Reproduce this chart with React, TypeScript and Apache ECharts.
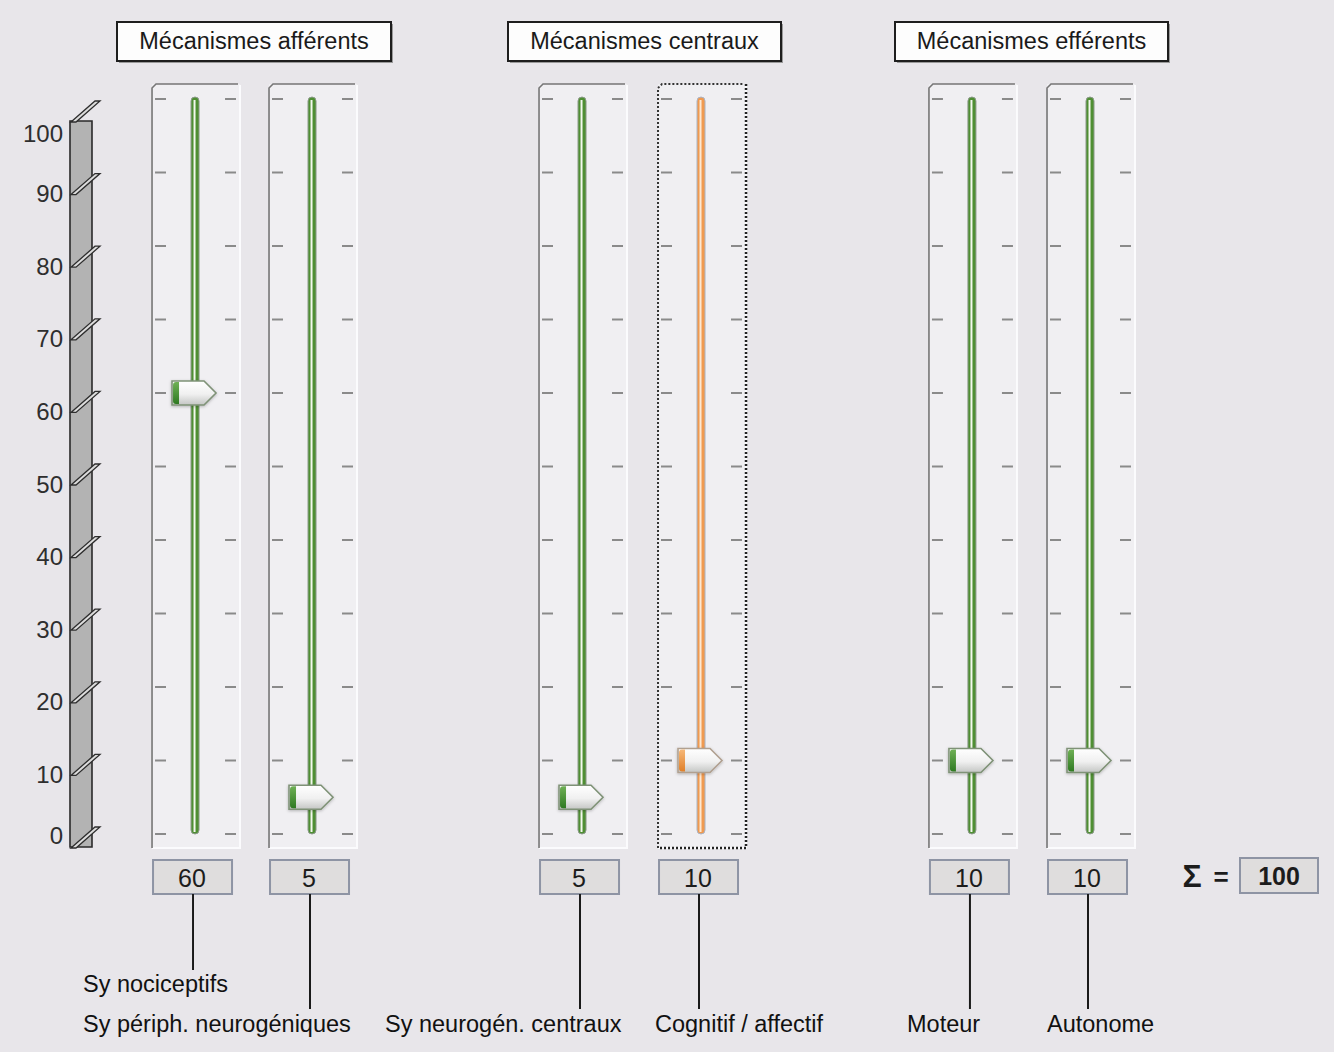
import React, { useEffect, useRef } from "react";
import * as echarts from "echarts";

// ---------- data ----------
const CATEGORIES = [
  "Sy nociceptifs",
  "Sy périph. neurogéniques",
  "Sy neurogén. centraux",
  "Cognitif / affectif",
  "Moteur",
  "Autonome",
];
const VALUES = [60, 5, 5, 10, 10, 10];
const GROUPS = ["Mécanismes afférents", "Mécanismes centraux", "Mécanismes efférents"];
const AXIS_TICKS = [0, 10, 20, 30, 40, 50, 60, 70, 80, 90, 100];
const ACTIVE_INDEX = 3;

// ---------- layout ----------
const SLOT_X = [14.62, 23.39, 43.63, 52.55, 72.86, 81.71]; // horizontal layout axis 0..100
const LABEL_LEFT = [83, 83, 385, 655, 907, 1047];
const LABEL_ROW = [0, 1, 1, 1, 1, 1];
const GROUP_BOXES = [
  { x: 117, w: 274 },
  { x: 508, w: 273 },
  { x: 895, w: 273 },
];

const FONT = "Liberation Sans, Arial, sans-serif";
const BG = "#e8e6ea";
const FRAME_BG = "#f0eff2";
const GREEN = "#4f8f33";
const ORANGE = "#f09a50";

export default function App() {
  const ref = useRef<HTMLDivElement>(null);

  useEffect(() => {
    if (!ref.current) return;
    const chart = echarts.init(ref.current, undefined, { renderer: "svg" });
    const total = VALUES.reduce((a, b) => a + b, 0);

    const txt = (x: number, y: number, text: string, size: number, align = "center", weight = "normal", color = "#1a1a1a") => ({
      type: "text",
      x,
      y,
      style: {
        text,
        fill: color,
        font: `${weight} ${size}px ${FONT}`,
        align,
        textAlign: align,
        verticalAlign: "middle",
        textVerticalAlign: "middle",
      },
    });

    const renderSlider = (params: any, api: any) => {
      const x = api.value(0);
      const v = api.value(1);
      const i = api.value(2);
      const active = i === ACTIVE_INDEX;
      const [cx, py] = api.coord([x, v]);
      const top = api.coord([x, 100])[1];
      const bot = api.coord([x, 0])[1];
      const fl = cx - 43;
      const fr = cx + 45;
      const ft = top - 15;
      const fb = bot + 14;
      const children: any[] = [];
      children.push({ type: "rect", shape: { x: fl, y: ft, width: fr - fl, height: fb - ft }, style: { fill: FRAME_BG } });
      children.push({
        type: "polyline",
        shape: { points: [[fr, ft + 1], [fr, fb], [fl, fb]] },
        style: { stroke: "#fbfbfd", lineWidth: 2, fill: "none" },
      });
      children.push({
        type: "polyline",
        shape: { points: [[fl, fb], [fl, ft + 4], [fl + 4, ft], [fr - 2, ft]] },
        style: { stroke: active ? "#333" : "#767676", lineWidth: active ? 2 : 1.6, fill: "none", lineDash: active ? [2, 2] : null },
      });
      if (active) {
        children.push({
          type: "polyline",
          shape: { points: [[fr, ft], [fr, fb], [fl, fb]] },
          style: { stroke: "#222", lineWidth: 2.5, fill: "none", lineDash: [2, 2] },
        });
      }
      AXIS_TICKS.forEach((t) => {
        const y = api.coord([x, t])[1];
        children.push({ type: "line", shape: { x1: cx - 40, y1: y, x2: cx - 29, y2: y }, style: { stroke: "#8a8a8a", lineWidth: 2 } });
        children.push({ type: "line", shape: { x1: cx + 30, y1: y, x2: cx + 41, y2: y }, style: { stroke: "#8a8a8a", lineWidth: 2 } });
      });
      const tc = active ? ORANGE : GREEN;
      children.push({
        type: "rect",
        shape: { x: cx - 4, y: top - 2, width: 8, height: bot - top + 2, r: 4 },
        style: { fill: tc, stroke: active ? "#aab4c6" : "#8c9a8a", lineWidth: 1 },
      });
      children.push({
        type: "line",
        shape: { x1: cx - 0.5, y1: top + 1, x2: cx - 0.5, y2: bot - 2 },
        style: { stroke: active ? "#fde8d2" : "#f3f8ee", lineWidth: 2 },
      });
      // pointer
      children.push({
        type: "polygon",
        shape: { points: [[cx - 23, py - 12], [cx + 9, py - 12], [cx + 21, py], [cx + 9, py + 12], [cx - 23, py + 12]] },
        style: {
          fill: new echarts.graphic.LinearGradient(0, 0, 0, 1, [
            { offset: 0, color: "#ffffff" },
            { offset: 0.55, color: "#f0f0f0" },
            { offset: 1, color: "#c4c6c4" },
          ]),
          stroke: active ? "#b0a090" : "#7f9277",
          lineWidth: 1.6,
          shadowBlur: 3,
          shadowColor: "rgba(0,0,0,0.25)",
          shadowOffsetY: 1,
        },
      });
      children.push({
        type: "rect",
        shape: { x: cx - 22, y: py - 11, width: 6, height: 22, r: [3, 0, 0, 3] },
        style: {
          fill: new echarts.graphic.LinearGradient(0, 0, 0, 1, [
            { offset: 0, color: active ? "#f6b878" : "#6fb055" },
            { offset: 1, color: active ? "#e0802a" : "#2f7a22" },
          ]),
        },
      });
      // value box
      const bx = cx - 42;
      const by = bot + 26;
      children.push({ type: "rect", shape: { x: bx, y: by, width: 79, height: 34 }, style: { fill: "#dfdddd", stroke: "#8e94a4", lineWidth: 2 } });
      children.push(txt(cx - 3, by + 18, String(v), 25, "center", "normal", "#1c1c1c"));
      // leader line + label
      const row = LABEL_ROW[i];
      const lineEnd = row === 0 ? 970 : 1009;
      children.push({ type: "line", shape: { x1: cx - 2, y1: by + 34, x2: cx - 2, y2: lineEnd }, style: { stroke: "#1a1a1a", lineWidth: 2 } });
      children.push(txt(LABEL_LEFT[i], row === 0 ? 984 : 1024, CATEGORIES[i], 23.5, "left", "normal", "#111"));
      return { type: "group", children };
    };

    const renderShelf = (params: any, api: any) => {
      const [x0, y] = api.coord([0, api.value(1)]);
      return {
        type: "polygon",
        shape: { points: [[x0 + 1, y + 1], [x0 + 25, y - 20], [x0 + 30, y - 20], [x0 + 6, y + 1]] },
        style: { fill: "#dcdcdc", stroke: "#2e2e2e", lineWidth: 1.3 },
      };
    };

    const renderBar = (params: any, api: any) => {
      const [x0, yb] = api.coord([0, api.value(1)]);
      const yt = api.coord([0, api.value(2)])[1];
      return {
        type: "rect",
        shape: { x: x0, y: yt, width: 22, height: yb - yt },
        style: { fill: "#b3b3b3", stroke: "#2a2a2a", lineWidth: 1.6 },
      };
    };

    const graphics: any[] = [];
    GROUPS.forEach((g, k) => {
      const b = GROUP_BOXES[k];
      graphics.push({ type: "rect", shape: { x: b.x + 2, y: 24, width: b.w, height: 39 }, style: { fill: "#9a9a9a" } });
      graphics.push({ type: "rect", shape: { x: b.x, y: 22, width: b.w, height: 39 }, style: { fill: "#fdfdfd", stroke: "#1e1e1e", lineWidth: 2 } });
      graphics.push({ ...txt(b.x + b.w / 2, 41, g, 23.5), z: 10 });
    });
    graphics.push(txt(1192, 876, "Σ", 32, "center", "bold", "#1c1c1c"));
    graphics.push(txt(1221, 877, "=", 26, "center", "bold", "#1c1c1c"));
    graphics.push({ type: "rect", shape: { x: 1240, y: 858, width: 78, height: 35 }, style: { fill: "#dfdddd", stroke: "#8e94a4", lineWidth: 2 } });
    graphics.push(txt(1279, 876, String(total), 25, "center", "bold", "#1c1c1c"));

    chart.setOption({
      animation: false,
      backgroundColor: BG,
      grid: [
        { left: 70, width: 22, top: 121, height: 726, outerBoundsMode: "none" },
        { left: 0, width: 1334, top: 99, height: 735, outerBoundsMode: "none" },
      ],
      xAxis: [
        { type: "value", gridIndex: 0, min: 0, max: 1, show: false },
        { type: "value", gridIndex: 1, min: 0, max: 100, show: false },
      ],
      yAxis: [
        {
          type: "value",
          gridIndex: 0,
          min: 0,
          max: 100,
          interval: 10,
          axisLine: { show: false },
          axisTick: { show: false },
          splitLine: { show: false },
          axisLabel: {
            margin: 7,
            fontSize: 24,
            fontFamily: FONT,
            color: "#2e2e2e",
            verticalAlignMaxLabel: "top",
            verticalAlignMinLabel: "bottom",
          },
        },
        { type: "value", gridIndex: 1, min: 0, max: 100, show: false },
      ],
      graphic: { elements: graphics },
      series: [
        {
          type: "custom",
          xAxisIndex: 0,
          yAxisIndex: 0,
          clip: false,
          renderItem: renderBar,
          data: [[0, 0, 100]],
          z: 2,
        },
        {
          type: "custom",
          xAxisIndex: 0,
          yAxisIndex: 0,
          clip: false,
          renderItem: renderShelf,
          data: AXIS_TICKS.map((t) => [0, t]),
          z: 3,
        },
        {
          type: "custom",
          xAxisIndex: 1,
          yAxisIndex: 1,
          clip: false,
          renderItem: renderSlider,
          data: VALUES.map((v, i) => [SLOT_X[i], v, i]),
          z: 2,
        },
      ],
    });
    return () => chart.dispose();
  }, []);

  return <div ref={ref} style={{ position: "absolute", left: 0, top: 0, width: 1334, height: 1052 }} />;
}
